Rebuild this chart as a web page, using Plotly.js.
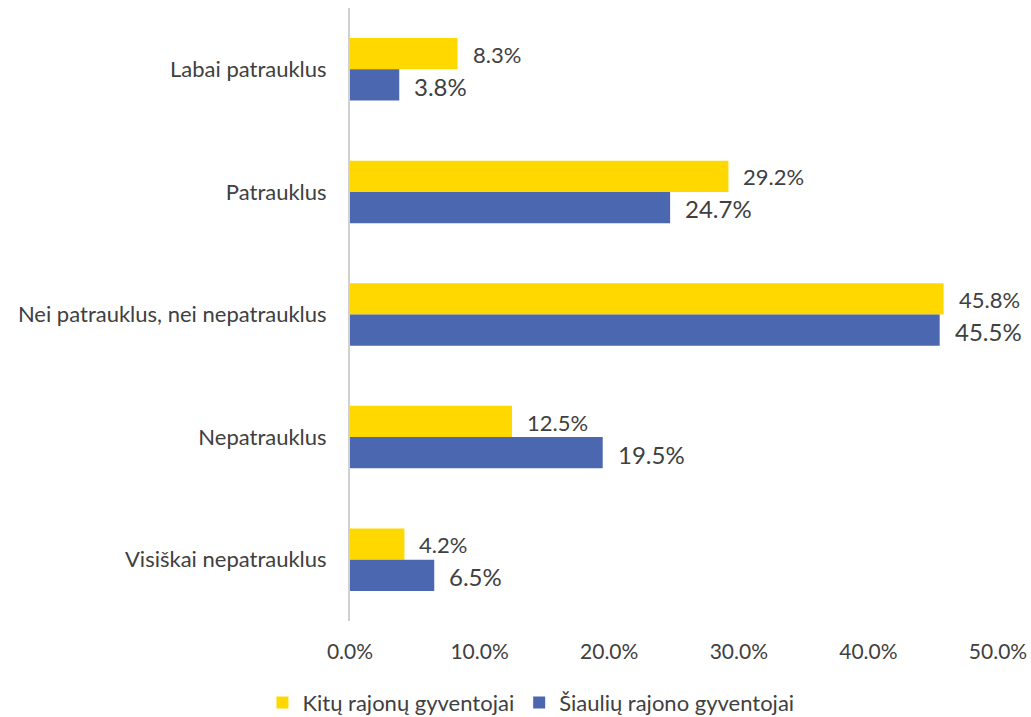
<!DOCTYPE html>
<html><head><meta charset="utf-8">
<script src="https://cdn.plot.ly/plotly-3.0.1.min.js"></script>
<style>html,body{margin:0;padding:0;background:#fff}#c{width:1031px;height:717px}</style>
</head><body><div id="c"></div>
<script>
const categories = ["Labai patrauklus","Patrauklus","Nei patrauklus, nei nepatrauklus","Nepatrauklus","Visiškai nepatrauklus"];
const seriesNames = ["Kitų rajonų gyventojai","Šiaulių rajono gyventojai"];
const kituValues = [8.3, 29.2, 45.8, 12.5, 4.2];
const siauliuValues = [3.8, 24.7, 45.5, 19.5, 6.5];
const xTickVals = [0,10,20,30,40,50];
const xTickText = ["0.0%","10.0%","20.0%","30.0%","40.0%","50.0%"];

const FONT = "Lato, sans-serif";
const TXT = "#404040";
const colors = ["#FFD800","#4A67B0"];

const traces = [
  {type:"bar", orientation:"h", name:seriesNames[0], y:categories, x:kituValues, marker:{color:colors[0]}, hoverinfo:"none"},
  {type:"bar", orientation:"h", name:seriesNames[1], y:categories, x:siauliuValues, marker:{color:colors[1]}, hoverinfo:"none"}
];

const annotations = [];
categories.forEach((c,i)=>{
  annotations.push({x:kituValues[i], y:c, xref:"x", yref:"y", text:kituValues[i].toFixed(1)+"%", showarrow:false, xanchor:"left", yanchor:"middle", xshift:13, yshift:15, font:{family:FONT, size:22, color:TXT}});
  annotations.push({x:siauliuValues[i], y:c, xref:"x", yref:"y", text:siauliuValues[i].toFixed(1)+"%", showarrow:false, xanchor:"left", yanchor:"middle", xshift:13, yshift:-17, font:{family:FONT, size:24, color:TXT}});
});

const layout = {
  width:1031, height:717,
  margin:{l:350, r:33, t:8, b:96},
  paper_bgcolor:"#fff", plot_bgcolor:"#fff",
  font:{family:FONT, color:TXT, size:21},
  barmode:"group", bargap:0.49, bargroupgap:0,
  showlegend:true,
  legend:{orientation:"h", xref:"container", yref:"container", x:0.515, y:0.02, xanchor:"center", yanchor:"middle", font:{family:FONT, size:22, color:TXT}, itemwidth:30, traceorder:"normal"},
  xaxis:{range:[0,50], tickvals:xTickVals, ticktext:xTickText, showgrid:false, zeroline:false, showline:false, ticks:"outside", ticklen:12, tickcolor:"rgba(0,0,0,0)", tickfont:{family:FONT, size:21, color:TXT}, fixedrange:true},
  yaxis:{autorange:"reversed", type:"category", showgrid:false, zeroline:false, showline:true, linecolor:"#D0D0D0", linewidth:2, ticks:"outside", ticklen:17, tickcolor:"rgba(0,0,0,0)", tickfont:{family:FONT, size:22, color:TXT}, fixedrange:true},
  annotations:annotations
};
Plotly.newPlot("c", traces, layout, {displayModeBar:false, staticPlot:true});
</script>
</body></html>
